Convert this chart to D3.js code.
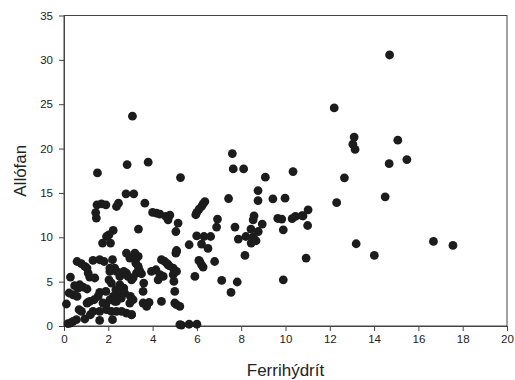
<!DOCTYPE html>
<html>
<head>
<meta charset="utf-8">
<script src="https://cdn.jsdelivr.net/npm/d3@7"></script>
<style>
body { margin: 0; background: #fff; }
text { font-family: "Liberation Sans", Arial, sans-serif; }
</style>
</head>
<body>
<div id="chart-area"></div>
<script>
// Ferrihýdrít (x) / Allófan (y) pairs
var ferri = [
    14.7, 12.2, 13.1, 13.04, 13.14, 15.07, 14.68, 15.48, 12.66, 14.5, 12.31, 11.02, 10.79, 11.0, 13.19, 16.68, 17.56, 14.01, 10.93,
    3.09, 1.51, 2.85, 3.8, 5.26, 7.6, 7.64, 8.11, 9.09, 10.34, 8.76, 2.8, 3.15,
    1.49, 1.69, 1.89, 1.43, 1.46, 2.37, 2.46, 3.65,
    4.0, 4.18, 4.33, 4.6, 4.78, 4.7, 5.15, 5.05, 3.36,
    2.22, 2.03, 1.92, 1.74, 2.1,
    6.36, 6.28, 6.21, 6.1, 5.99, 5.95,
    5.99, 5.65, 6.32, 6.62, 6.21, 6.5, 6.09, 6.28, 5.91, 6.8,
    7.43, 8.76, 9.43, 9.98, 6.93, 6.89, 7.72, 8.58, 8.54, 8.95,
    8.44, 8.21, 7.87, 8.54, 8.67, 8.45, 8.77,
    9.65, 9.83, 9.9, 10.3, 10.45, 10.75,
    8.17, 7.12, 7.82, 7.54, 9.9,
    5.3, 5.65, 6.0,
    0.59, 0.78, 0.94, 1.31, 1.61, 1.81, 2.19,
    1.04, 1.09, 1.16, 1.39, 0.29,
    0.71, 0.86, 0.63, 1.04, 0.48,
    0.23, 0.41, 0.59, 0.11,
    0.18, 0.3, 0.41, 0.56,
    0.68, 0.79, 0.94, 1.19,
    1.04, 1.16, 1.36, 1.54, 1.61, 1.89,
    1.61, 2.19,
    1.31, 1.61, 1.92, 2.14, 2.37, 2.6, 2.82, 3.05,
    1.76, 1.89, 2.07, 2.29, 2.22, 2.44, 2.34, 2.59,
    2.03, 2.14, 2.07, 2.37, 2.52, 2.29, 2.07,
    2.7, 2.82, 2.89, 3.05, 3.12, 3.27, 3.42, 3.35, 3.24, 2.97, 3.3,
    2.52, 2.7, 2.74, 2.59, 2.37,
    3.0, 2.97, 3.12, 3.05,
    3.6, 3.57, 3.57, 3.73, 3.84, 4.4,
    3.95, 4.15, 4.4, 4.55, 4.7, 4.93, 5.05, 4.93,
    5.0, 5.0, 5.08, 5.23,
    3.2, 3.35, 3.39, 3.5,
    4.33, 4.25, 4.48, 4.66, 4.75, 5.08, 5.08, 4.96, 5.23,
    2.82, 3.2, 5.08, 6.13, 6.21
];
var allo = [
    30.55, 24.58, 21.3, 20.5, 19.9, 20.95, 18.3, 18.76, 16.7, 14.56, 13.9, 13.1, 12.4, 11.33, 9.27, 9.53, 9.08, 7.95, 7.66,
    23.65, 17.26, 18.2, 18.47, 16.73, 19.44, 17.71, 17.71, 16.78, 17.41, 15.27, 14.9, 14.9,
    13.66, 13.77, 13.66, 12.79, 12.16, 13.47, 13.85, 13.85,
    12.8, 12.72, 12.6, 12.35, 12.5, 11.97, 11.6, 10.65, 10.92,
    10.77, 10.28, 10.09, 9.35, 9.35,
    14.03, 13.77, 13.47, 13.18, 12.79, 12.54,
    10.17, 9.16, 10.09, 10.09, 9.23, 8.74, 7.39, 6.64, 5.59, 7.27,
    14.37, 14.14, 14.33, 14.41, 12.05, 11.15, 11.15, 12.42, 11.97, 11.49,
    10.92, 10.09, 9.8, 10.02, 9.61, 9.35, 10.65,
    12.12, 12.05, 10.84, 12.1, 12.35, 12.45,
    7.95, 5.14, 4.96, 3.78, 5.21,
    0.1, 0.2, 0.2,
    7.27, 7.02, 6.71, 7.39, 7.47, 7.27, 7.47,
    6.53, 5.97, 5.52, 5.41, 5.52,
    4.65, 4.39, 4.28, 4.17, 4.54,
    3.72, 3.52, 3.33, 2.48,
    0.26, 0.34, 0.52, 0.71,
    1.84, 1.64, 0.79, 1.27,
    2.59, 2.77, 2.96, 3.33, 3.78, 3.9,
    0.63, 0.71,
    1.64, 1.64, 1.84, 1.64, 1.64, 1.64, 1.46, 1.27,
    2.59, 2.4, 2.96, 2.77, 3.33, 3.52, 4.09, 3.78,
    5.21, 4.84, 6.15, 6.15, 5.59, 6.53, 6.53,
    6.15, 5.97, 5.59, 5.21, 5.41, 5.97, 6.15, 6.71, 7.09, 7.66, 7.77,
    4.65, 4.28, 3.72, 3.15, 2.77,
    3.33, 2.59, 2.96, 1.27,
    4.84, 3.9, 2.59, 2.21, 2.66, 2.77,
    6.15, 6.34, 7.47, 7.27, 6.9, 6.53, 8.22, 5.78,
    3.9, 2.59, 2.4, 0.15,
    7.84, 7.84, 6.34, 5.89,
    5.78, 5.21, 5.59, 7.02, 6.79, 8.4, 6.15, 5.02, 2.21,
    8.22, 8.22, 8.51, 7.27, 6.9
];
var xTicks = [0, 2, 4, 6, 8, 10, 12, 14, 16, 18, 20];
var yTicks = [0, 5, 10, 15, 20, 25, 30, 35];

var margin = {top: 15.5, right: 8, bottom: 54, left: 64},
    width = 515 - margin.left - margin.right,
    height = 380 - margin.top - margin.bottom;

var svg = d3.select("#chart-area")
    .append("svg")
        .attr("width", 515)
        .attr("height", 380);

var g = svg.append("g")
    .attr("transform", "translate(" + margin.left + "," + margin.top + ")");

var x = d3.scaleLinear()
    .domain([0, 20])
    .range([0, width]);

var y = d3.scaleLinear()
    .domain([0, 35])
    .range([height, 0]);

// frame
g.append("rect")
    .attr("width", width)
    .attr("height", height)
    .attr("fill", "none")
    .attr("stroke", "#444")
    .attr("stroke-width", 1);

var xAxisCall = d3.axisBottom(x)
    .tickValues(xTicks)
    .tickSize(5)
    .tickSizeOuter(0)
    .tickPadding(4);

var xAxis = g.append("g")
    .attr("class", "x axis")
    .attr("transform", "translate(0," + height + ")")
    .call(xAxisCall);

var yAxisCall = d3.axisLeft(y)
    .tickValues(yTicks)
    .tickSize(5)
    .tickSizeOuter(0)
    .tickPadding(6);

var yAxis = g.append("g")
    .attr("class", "y axis")
    .call(yAxisCall);

g.selectAll(".axis path").attr("stroke", "#444");
g.selectAll(".axis line").attr("stroke", "#444");
g.selectAll(".axis text")
    .attr("font-size", "11.5px")
    .attr("fill", "#222")
    .style("font-family", "'Liberation Sans', Arial, sans-serif");

// points
var points = ferri.map(function(v, i) { return {f: v, a: allo[i]}; });

g.selectAll("circle")
    .data(points)
    .enter()
    .append("circle")
        .attr("cx", function(d) { return x(d.f); })
        .attr("cy", function(d) { return y(d.a); })
        .attr("r", 4.4)
        .attr("fill", "#1c1c1c");

// X Label
g.append("text")
    .attr("x", width / 2)
    .attr("y", height + 50)
    .attr("font-size", "17px")
    .attr("text-anchor", "middle")
    .attr("fill", "#222")
    .text("Ferrihýdrít");

// Y Label
g.append("text")
    .attr("x", -(height / 2))
    .attr("y", -38)
    .attr("font-size", "17px")
    .attr("text-anchor", "middle")
    .attr("transform", "rotate(-90)")
    .attr("fill", "#222")
    .text("Allófan");
</script>
</body>
</html>
